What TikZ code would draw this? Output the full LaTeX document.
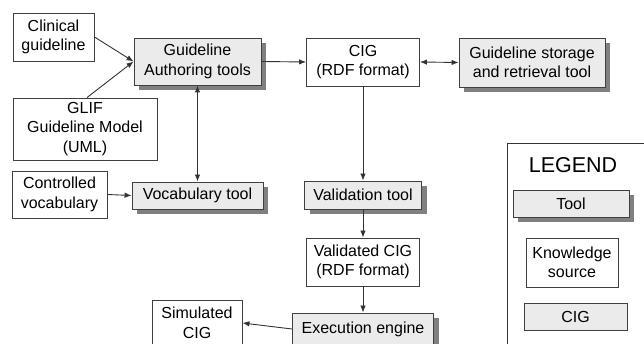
\documentclass[tikz,border=0pt]{standalone}
\usepackage{fontspec}
\setmainfont{Liberation Sans}
\usetikzlibrary{arrows.meta,shadows}
\begin{document}
\begin{tikzpicture}[x=1pt,y=1pt,
  every node/.style={font=\fontsize{16}{19.5}\selectfont, align=center, inner sep=0pt},
  ks/.style={draw=black!75, line width=0.9pt, fill=white, minimum width=#1},
  tool/.style={draw=black!75, line width=0.9pt, fill=black!8, minimum width=#1,
    drop shadow={shadow xshift=5pt, shadow yshift=-5pt, fill=black!50, opacity=1}},
  cigbox/.style={draw=black!75, line width=0.9pt, fill=black!8, minimum width=#1},
  conn/.style={draw=black!80, line width=0.9pt},
  arr/.style={conn, -{Latex[length=7pt,width=5.5pt]}},
  darr/.style={conn, {Latex[length=7pt,width=5.5pt]}-{Latex[length=7pt,width=5.5pt]}}
]
\useasboundingbox (0,0) rectangle (644,344);
\clip (0,0) rectangle (644,344);

% knowledge sources
\node[ks=81, minimum height=48] (clin) at (53.5,307) {Clinical\\guideline};
\node[ks=144, minimum height=62] (glif) at (85,215) {GLIF\\Guideline Model\\(UML)};
\node[ks=95, minimum height=47] (ctrl) at (59.5,149.5) {Controlled\\vocabulary};
\node[ks=90, minimum height=46] (sim) at (197,21) {Simulated\\CIG};

% CIG
\node[ks=113, minimum height=48] (cig) at (363,282) {CIG\\(RDF format)};
\node[ks=113, minimum height=48] (vcig) at (363,82) {Validated CIG\\(RDF format)};

% tools
\node[tool=127, minimum height=47] (auth) at (197.5,282.5) {Guideline\\Authoring tools};
\node[tool=131, minimum height=27] (vocab) at (197.5,148.5) {Vocabulary tool};
\node[tool=146, minimum height=49] (store) at (532,281.5) {Guideline storage\\and retrieval tool};
\node[tool=117, minimum height=28] (valid) at (363,149) {Validation tool};
\node[tool=141, minimum height=32] (exec) at (363,15) {Execution engine};

% legend
\draw[conn] (507,201) rectangle (660,-10);
\node[font=\fontsize{21.5}{24}\selectfont] (legt) at (573,179) {LEGEND};
\node[tool=116, minimum height=27] (ltool) at (571,140.5) {Tool};
\node[ks=92, minimum height=49] (lks) at (572,81.5) {Knowledge\\source};
\node[cigbox=103, minimum height=27] (lcig) at (575.5,27.5) {CIG};

% connectors
\draw[arr] (clin.east) -- (auth.west);
\draw[arr] (glif.north) ++(2,0) -- (auth.west);
\draw[arr] (auth.east) -- (cig.west);
\draw[darr] (cig.east) -- (store.west);
\draw[darr] (auth.south) -- (vocab.north);
\draw[arr] (ctrl.east) -- (vocab.west);
\draw[arr] (cig.south) -- (valid.north);
\draw[arr] (valid.south) -- (vcig.north);
\draw[arr] (vcig.south) -- (exec.north);
\draw[arr] (exec.west) -- (sim.east);
\end{tikzpicture}
\end{document}
